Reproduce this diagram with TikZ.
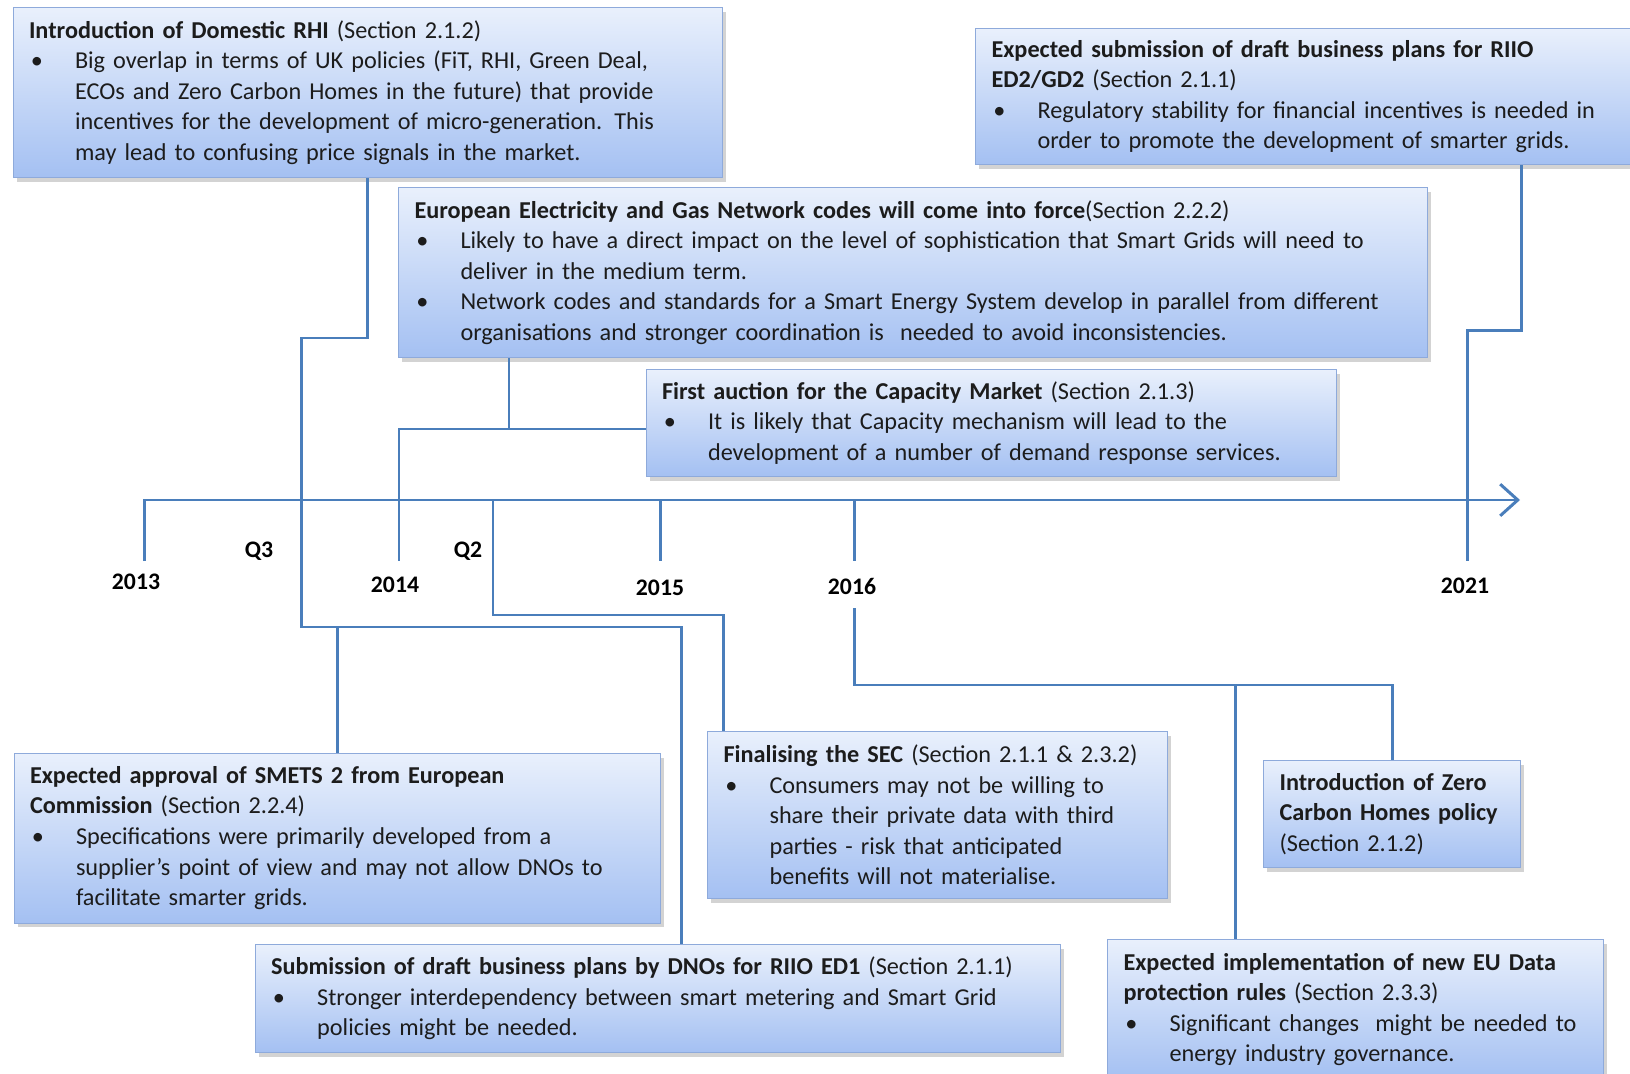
\documentclass[tikz,border=0pt]{standalone}
\usepackage{fontspec}
\setmainfont{Carlito}
\usepackage{tikz}
\usetikzlibrary{shadows}
\usetikzlibrary{arrows.meta}
\usetikzlibrary{calc}

\definecolor{evblue}{HTML}{4A7EBB}
\definecolor{boxtop}{HTML}{E9F0FC}
\definecolor{boxbot}{HTML}{A4C0F2}
\definecolor{boxedge}{HTML}{8EAADB}
\definecolor{evtext}{HTML}{1C1C1C}

\newcommand{\evitem}[1]{\par\hangindent=0.92cm\hangafter=1\noindent\makebox[0.92cm][l]{\hspace{1pt}\textbullet}{\let\\\newline #1}\par}

\tikzset{
  evbox/.style={draw=boxedge, line width=0.6pt, top color=boxtop, bottom color=boxbot,
    drop shadow={shadow xshift=2pt, shadow yshift=-2.5pt, opacity=0.35},
    anchor=north west, align=left, inner xsep=0.32cm, inner ysep=0pt,
    font=\fontsize{13.8}{17.4}\selectfont, text=evtext},
  evline/.style={draw=evblue, line width=1.7pt},
  yearlbl/.style={font=\fontsize{13.5}{16}\selectfont\bfseries, text=black, inner sep=1pt}
}

\begin{document}
\begin{tikzpicture}[x=0.02cm, y=-0.02cm]
    \useasboundingbox (0,0) rectangle (1630,1074);

    \node[evbox, text width=13.56cm, minimum height=3.4cm] (rhi) at (12.5,7) {\textbf{Introduction of Domestic RHI} (Section 2.1.2)
    \evitem{Big overlap in terms of UK policies (FiT, RHI, Green Deal,\\ ECOs and Zero Carbon Homes in the future) that provide\\ incentives for the development of micro-generation. This\\ may lead to confusing price signals in the market.}};
    \node[evbox, text width=12.5cm, minimum height=2.72cm] (ed2) at (975,28) {\textbf{Expected submission of draft business plans for RIIO}\\ \textbf{ED2/GD2} (Section 2.1.1)
    \evitem{Regulatory stability for financial incentives is needed in\\ order to promote the development of smarter grids.}};
    \node[evbox, text width=19.94cm, minimum height=3.4cm] (euro) at (398,187) {\textbf{European Electricity and Gas Network codes will come into force}(Section 2.2.2)
    \evitem{Likely to have a direct impact on the level of sophistication that Smart Grids will need to\\ deliver in the medium term.}
    \evitem{Network codes and standards for a Smart Energy System develop in parallel from different\\ organisations and stronger coordination is\ \ needed to avoid inconsistencies.}};
    \node[evbox, text width=13.18cm, minimum height=2.14cm] (cap) at (645.5,369) {\textbf{First auction for the Capacity Market} (Section 2.1.3)
    \evitem{It is likely that Capacity mechanism will lead to the\\ development of a number of demand response services.}};
    \node[evbox, text width=12.3cm, minimum height=3.4cm] (smets) at (13.5,752.6) {\textbf{Expected approval of SMETS 2 from European}\\ \textbf{Commission} (Section 2.2.4)
    \evitem{Specifications were primarily developed from a\\ supplier’s point of view and may not allow DNOs to\\ facilitate smarter grids.}};
    \node[evbox, text width=15.46cm, minimum height=2.16cm] (sub) at (254.7,944) {\textbf{Submission of draft business plans by DNOs for RIIO ED1} (Section 2.1.1)
    \evitem{Stronger interdependency between smart metering and Smart Grid\\ policies might be needed.}};
    \node[evbox, text width=8.56cm, minimum height=3.34cm] (sec) at (707,731) {\textbf{Finalising the SEC} (Section 2.1.1 \& 2.3.2)
    \evitem{Consumers may not be willing to\\ share their private data with third\\ parties - risk that anticipated\\ benefits will not materialise.}};
    \node[evbox, text width=4.5cm, minimum height=2.14cm] (zero) at (1263,760) {\textbf{Introduction of Zero}\\ \textbf{Carbon Homes policy}\\ (Section 2.1.2)};
    \node[evbox, text width=9.28cm, minimum height=2.8cm] (eu) at (1107,939) {\textbf{Expected implementation of new EU Data}\\ \textbf{protection rules} (Section 2.3.3)
    \evitem{Significant changes\ \ might be needed to\\ energy industry governance.}};

    \node[yearlbl] (y2013) at (136,582) {2013};
    \node[yearlbl] (q3lbl) at (259,551) {Q3};
    \node[yearlbl] (y2014) at (395,585) {2014};
    \node[yearlbl] (q2lbl) at (468,551) {Q2};
    \node[yearlbl] (y2015) at (660,588) {2015};
    \node[yearlbl] (y2016) at (852,586) {2016};
    \node[yearlbl] (y2021) at (1465,586) {2021};

    \coordinate (k2013) at (144.5,500);
    \coordinate (e2013) at (144.5,561);
    \coordinate (tend) at (1520,500);
    \coordinate (q3a) at (301.5,338);
    \coordinate (q3b) at (301.5,627);
    \coordinate (j2014) at (509,429);
    \coordinate (e2014) at (399,561);
    \coordinate (q2) at (493,500);
    \coordinate (q2a) at (493,615);
    \coordinate (k2015) at (660,500);
    \coordinate (e2015) at (660,561);
    \coordinate (k2016) at (854.5,500);
    \coordinate (e2016) at (854.5,561);
    \coordinate (d2016) at (854.5,608);
    \coordinate (j2016) at (854.5,685);
    \coordinate (eutop) at ($(eu.north west)+(128,0)$);
    \coordinate (j2021) at (1521,330.5);
    \coordinate (e2021) at (1467,561);

    \draw[evline, -{Straight Barb[length=10pt,width=18pt]}] (e2013) -- (k2013) -- (tend);
    \draw[evline] (rhi.south) |- (q3a) -- (q3b) -| ($(sub.north)+(24,0)$);
    \draw[evline] (smets.north) -- (smets.north |- q3b);
    \draw[evline] ($(euro.south west)+(111,0)$) -- (j2014) -| (e2014);
    \draw[evline] (j2014) -- (j2014 -| cap.west);
    \draw[evline] (q2) -- (q2a) -| ($(sec.north west)+(16.5,0)$);
    \draw[evline] (k2015) -- (e2015);
    \draw[evline] (k2016) -- (e2016);
    \draw[evline] (d2016) -- (j2016) -| (zero.north);
    \draw[evline] (eutop |- j2016) -- (eutop);
    \draw[evline] (ed2.south west -| j2021) -- (j2021) -| (e2021);
\end{tikzpicture}
\end{document}
